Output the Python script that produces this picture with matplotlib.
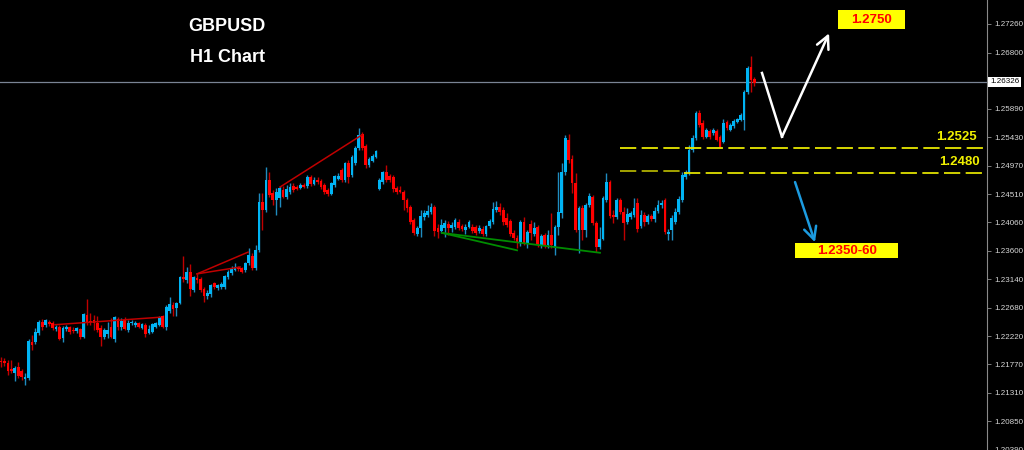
import matplotlib.pyplot as plt
import numpy as np
from matplotlib.patches import Rectangle
from matplotlib.transforms import blended_transform_factory

plt.rcParams['font.family'] = ['Liberation Sans', 'DejaVu Sans']

# GBPUSD H1 candles
opens = [
    1.2182, 1.2182, 1.2179, 1.2170, 1.2163, 1.2173, 1.2166, 1.2153, 1.2155, 1.2213,
    1.2213, 1.2228, 1.2245, 1.2241, 1.2245, 1.2244, 1.2234, 1.2237, 1.2220, 1.2234,
    1.2237, 1.2232, 1.2231, 1.2234, 1.2221, 1.2257, 1.2247, 1.2249, 1.2244, 1.2236,
    1.2221, 1.2226, 1.2237, 1.2218, 1.2250, 1.2237, 1.2249, 1.2232, 1.2244, 1.2241,
    1.2244, 1.2236, 1.2241, 1.2228, 1.2229, 1.2237, 1.2241, 1.2255, 1.2237, 1.2263,
    1.2273, 1.2268, 1.2276, 1.2318, 1.2313, 1.2326, 1.2297, 1.2316, 1.2315, 1.2299,
    1.2287, 1.2291, 1.2308, 1.2300, 1.2302, 1.2302, 1.2318, 1.2324, 1.2329, 1.2334,
    1.2332, 1.2329, 1.2340, 1.2352, 1.2332, 1.2361, 1.2439, 1.2426, 1.2474, 1.2453,
    1.2442, 1.2445, 1.2458, 1.2447, 1.2455, 1.2465, 1.2463, 1.2461, 1.2466, 1.2465,
    1.2479, 1.2468, 1.2474, 1.2473, 1.2466, 1.2458, 1.2452, 1.2466, 1.2476, 1.2491,
    1.2474, 1.2502, 1.2482, 1.2502, 1.2526, 1.2549, 1.2529, 1.2499, 1.2505, 1.2511,
    1.2460, 1.2471, 1.2487, 1.2481, 1.2479, 1.2461, 1.2458, 1.2455, 1.2442, 1.2431,
    1.2410, 1.2387, 1.2397, 1.2415, 1.2418, 1.2423, 1.2431, 1.2397, 1.2392, 1.2397,
    1.2403, 1.2397, 1.2399, 1.2407, 1.2400, 1.2394, 1.2399, 1.2399, 1.2399, 1.2392,
    1.2395, 1.2387, 1.2400, 1.2407, 1.2426, 1.2431, 1.2426, 1.2413, 1.2408, 1.2389,
    1.2381, 1.2373, 1.2407, 1.2371, 1.2403, 1.2387, 1.2399, 1.2368, 1.2386, 1.2370,
    1.2386, 1.2365, 1.2399, 1.2421, 1.2487, 1.2539, 1.2508, 1.2470, 1.2394, 1.2429,
    1.2394, 1.2434, 1.2447, 1.2405, 1.2366, 1.2379, 1.2442, 1.2471, 1.2418, 1.2415,
    1.2442, 1.2423, 1.2407, 1.2415, 1.2418, 1.2437, 1.2400, 1.2418, 1.2407, 1.2416,
    1.2411, 1.2424, 1.2434, 1.2442, 1.2387, 1.2394, 1.2407, 1.2423, 1.2442, 1.2479,
    1.2486, 1.2523, 1.2542, 1.2582, 1.2566, 1.2544, 1.2553, 1.2550, 1.2553, 1.2544,
    1.2536, 1.2568, 1.2555, 1.2561, 1.2568, 1.2571, 1.2571, 1.2616, 1.2657, 1.2637,
]
highs = [
    1.2189, 1.2187, 1.2184, 1.2184, 1.2174, 1.2181, 1.2170, 1.2163, 1.2218, 1.2224,
    1.2236, 1.2249, 1.2250, 1.2250, 1.2249, 1.2247, 1.2241, 1.2241, 1.2239, 1.2241,
    1.2239, 1.2237, 1.2237, 1.2236, 1.2260, 1.2282, 1.2260, 1.2257, 1.2255, 1.2241,
    1.2236, 1.2245, 1.2252, 1.2255, 1.2253, 1.2252, 1.2253, 1.2249, 1.2249, 1.2247,
    1.2245, 1.2244, 1.2244, 1.2241, 1.2244, 1.2245, 1.2255, 1.2257, 1.2273, 1.2286,
    1.2278, 1.2278, 1.2320, 1.2352, 1.2334, 1.2339, 1.2320, 1.2323, 1.2318, 1.2302,
    1.2297, 1.2307, 1.2310, 1.2307, 1.2310, 1.2321, 1.2329, 1.2336, 1.2340, 1.2336,
    1.2334, 1.2342, 1.2365, 1.2357, 1.2370, 1.2453, 1.2453, 1.2495, 1.2487, 1.2458,
    1.2461, 1.2465, 1.2465, 1.2466, 1.2470, 1.2470, 1.2466, 1.2470, 1.2470, 1.2482,
    1.2482, 1.2479, 1.2479, 1.2476, 1.2470, 1.2461, 1.2471, 1.2482, 1.2486, 1.2494,
    1.2503, 1.2507, 1.2515, 1.2529, 1.2558, 1.2552, 1.2532, 1.2511, 1.2516, 1.2523,
    1.2478, 1.2489, 1.2499, 1.2484, 1.2482, 1.2465, 1.2465, 1.2458, 1.2445, 1.2434,
    1.2413, 1.2400, 1.2426, 1.2426, 1.2434, 1.2437, 1.2434, 1.2403, 1.2411, 1.2410,
    1.2408, 1.2407, 1.2413, 1.2411, 1.2403, 1.2403, 1.2410, 1.2403, 1.2402, 1.2402,
    1.2400, 1.2402, 1.2411, 1.2439, 1.2440, 1.2437, 1.2431, 1.2421, 1.2411, 1.2394,
    1.2386, 1.2410, 1.2415, 1.2394, 1.2410, 1.2407, 1.2402, 1.2387, 1.2389, 1.2394,
    1.2421, 1.2402, 1.2487, 1.2502, 1.2547, 1.2549, 1.2515, 1.2486, 1.2432, 1.2434,
    1.2437, 1.2453, 1.2450, 1.2408, 1.2399, 1.2449, 1.2486, 1.2474, 1.2426, 1.2445,
    1.2445, 1.2431, 1.2429, 1.2424, 1.2445, 1.2445, 1.2426, 1.2423, 1.2420, 1.2420,
    1.2431, 1.2442, 1.2442, 1.2445, 1.2395, 1.2418, 1.2429, 1.2449, 1.2487, 1.2491,
    1.2531, 1.2547, 1.2586, 1.2587, 1.2571, 1.2558, 1.2557, 1.2558, 1.2557, 1.2547,
    1.2573, 1.2571, 1.2566, 1.2573, 1.2574, 1.2582, 1.2620, 1.2658, 1.2674, 1.2641,
]
lows = [
    1.2173, 1.2174, 1.2160, 1.2163, 1.2150, 1.2155, 1.2152, 1.2144, 1.2152, 1.2200,
    1.2210, 1.2224, 1.2232, 1.2237, 1.2239, 1.2232, 1.2231, 1.2216, 1.2213, 1.2231,
    1.2226, 1.2228, 1.2228, 1.2218, 1.2220, 1.2241, 1.2241, 1.2232, 1.2229, 1.2207,
    1.2218, 1.2220, 1.2220, 1.2213, 1.2232, 1.2232, 1.2232, 1.2229, 1.2241, 1.2237,
    1.2236, 1.2234, 1.2221, 1.2226, 1.2228, 1.2236, 1.2239, 1.2236, 1.2232, 1.2260,
    1.2255, 1.2255, 1.2274, 1.2310, 1.2308, 1.2287, 1.2294, 1.2308, 1.2294, 1.2278,
    1.2282, 1.2286, 1.2299, 1.2297, 1.2299, 1.2299, 1.2315, 1.2321, 1.2328, 1.2328,
    1.2324, 1.2326, 1.2337, 1.2329, 1.2329, 1.2358, 1.2394, 1.2423, 1.2447, 1.2434,
    1.2418, 1.2431, 1.2445, 1.2444, 1.2452, 1.2455, 1.2458, 1.2460, 1.2461, 1.2461,
    1.2465, 1.2466, 1.2468, 1.2460, 1.2452, 1.2449, 1.2450, 1.2463, 1.2474, 1.2471,
    1.2471, 1.2470, 1.2479, 1.2499, 1.2523, 1.2523, 1.2494, 1.2495, 1.2503, 1.2510,
    1.2458, 1.2468, 1.2471, 1.2471, 1.2455, 1.2452, 1.2453, 1.2426, 1.2423, 1.2403,
    1.2386, 1.2384, 1.2382, 1.2410, 1.2415, 1.2420, 1.2384, 1.2381, 1.2389, 1.2382,
    1.2386, 1.2390, 1.2395, 1.2394, 1.2392, 1.2387, 1.2397, 1.2389, 1.2386, 1.2389,
    1.2384, 1.2384, 1.2397, 1.2403, 1.2423, 1.2418, 1.2402, 1.2399, 1.2384, 1.2378,
    1.2365, 1.2368, 1.2370, 1.2365, 1.2378, 1.2384, 1.2366, 1.2365, 1.2365, 1.2365,
    1.2365, 1.2353, 1.2386, 1.2413, 1.2482, 1.2502, 1.2453, 1.2390, 1.2357, 1.2378,
    1.2382, 1.2431, 1.2402, 1.2358, 1.2363, 1.2378, 1.2439, 1.2413, 1.2405, 1.2411,
    1.2420, 1.2378, 1.2403, 1.2411, 1.2415, 1.2390, 1.2397, 1.2400, 1.2403, 1.2408,
    1.2407, 1.2421, 1.2429, 1.2387, 1.2378, 1.2378, 1.2403, 1.2420, 1.2439, 1.2476,
    1.2482, 1.2520, 1.2539, 1.2560, 1.2540, 1.2542, 1.2540, 1.2547, 1.2537, 1.2526,
    1.2534, 1.2555, 1.2553, 1.2558, 1.2566, 1.2570, 1.2555, 1.2613, 1.2616, 1.2626,
]
closes = [
    1.2181, 1.2179, 1.2166, 1.2166, 1.2171, 1.2158, 1.2157, 1.2157, 1.2215, 1.2208,
    1.2229, 1.2245, 1.2237, 1.2249, 1.2242, 1.2236, 1.2237, 1.2218, 1.2236, 1.2237,
    1.2229, 1.2231, 1.2236, 1.2221, 1.2258, 1.2244, 1.2245, 1.2244, 1.2232, 1.2221,
    1.2232, 1.2232, 1.2221, 1.2253, 1.2237, 1.2247, 1.2234, 1.2244, 1.2245, 1.2244,
    1.2237, 1.2242, 1.2226, 1.2234, 1.2242, 1.2244, 1.2253, 1.2237, 1.2270, 1.2274,
    1.2266, 1.2276, 1.2318, 1.2315, 1.2326, 1.2299, 1.2318, 1.2313, 1.2297, 1.2287,
    1.2292, 1.2305, 1.2302, 1.2305, 1.2307, 1.2320, 1.2326, 1.2332, 1.2334, 1.2331,
    1.2326, 1.2340, 1.2353, 1.2332, 1.2361, 1.2439, 1.2426, 1.2474, 1.2450, 1.2442,
    1.2455, 1.2461, 1.2447, 1.2460, 1.2463, 1.2458, 1.2460, 1.2466, 1.2463, 1.2479,
    1.2468, 1.2474, 1.2471, 1.2463, 1.2455, 1.2452, 1.2470, 1.2481, 1.2481, 1.2474,
    1.2502, 1.2479, 1.2511, 1.2526, 1.2547, 1.2526, 1.2499, 1.2508, 1.2513, 1.2521,
    1.2474, 1.2487, 1.2474, 1.2474, 1.2460, 1.2455, 1.2455, 1.2442, 1.2429, 1.2407,
    1.2389, 1.2397, 1.2416, 1.2421, 1.2424, 1.2431, 1.2392, 1.2390, 1.2402, 1.2405,
    1.2397, 1.2402, 1.2410, 1.2397, 1.2395, 1.2399, 1.2407, 1.2392, 1.2389, 1.2397,
    1.2387, 1.2400, 1.2408, 1.2428, 1.2431, 1.2423, 1.2407, 1.2402, 1.2387, 1.2381,
    1.2373, 1.2407, 1.2373, 1.2390, 1.2389, 1.2397, 1.2370, 1.2384, 1.2368, 1.2386,
    1.2370, 1.2399, 1.2423, 1.2487, 1.2542, 1.2507, 1.2470, 1.2394, 1.2429, 1.2394,
    1.2434, 1.2449, 1.2405, 1.2366, 1.2379, 1.2445, 1.2471, 1.2416, 1.2415, 1.2442,
    1.2423, 1.2405, 1.2420, 1.2421, 1.2429, 1.2395, 1.2418, 1.2407, 1.2416, 1.2411,
    1.2424, 1.2434, 1.2437, 1.2390, 1.2390, 1.2413, 1.2423, 1.2444, 1.2482, 1.2487,
    1.2523, 1.2542, 1.2582, 1.2563, 1.2544, 1.2555, 1.2544, 1.2555, 1.2539, 1.2528,
    1.2566, 1.2558, 1.2563, 1.2570, 1.2573, 1.2579, 1.2616, 1.2655, 1.2636, 1.2631,
]

# price axis
tick_prices = [1.27260, 1.26800, 1.25890, 1.25430, 1.24970, 1.24510, 1.24060,
               1.23600, 1.23140, 1.22680, 1.22220, 1.21770, 1.21310, 1.20850, 1.20390]
last_price = 1.26326

# drawn annotations (candle index, price)
red_lines = [([15.7, 46.2], [1.2241, 1.2253]),
             ([57.0, 71.8], [1.2323, 1.2358]),
             ([57.0, 69.5], [1.2323, 1.2334]),
             ([81.1, 104.9], [1.2463, 1.2547])]
green_lines = [([128.2, 150.0], [1.2389, 1.2361]),
               ([128.2, 174.1], [1.2389, 1.2357])]
level_hi = 1.2526
level_lo = 1.2488
target_up = "1.2750"
target_down = "1.2350-60"

o = np.array(opens)
h = np.array(highs)
l = np.array(lows)
c = np.array(closes)
x = np.arange(len(c))
up = c >= o

UP = "#00b4f4"
DOWN = "#ff0000"

fig = plt.figure(figsize=(10.24, 4.5), dpi=100, facecolor="black")
ax = fig.add_axes([0, 0, 987 / 1024, 1])
ax.set_facecolor("black")

x_right = 286.6
ax.set_xlim(-0.29, x_right)
ax.set_ylim(1.20389, 1.27647)

# candles
ax.vlines(x[up], l[up], h[up], colors="#1f8cc0", lw=1.0, zorder=2)
ax.vlines(x[~up], l[~up], h[~up], colors="#c00000", lw=1.0, zorder=2)
body = np.maximum(np.abs(c - o), 0.00008)
ax.bar(x[up], body[up], bottom=o[up], width=0.8, color=UP, linewidth=0, zorder=3)
ax.bar(x[~up], body[~up], bottom=c[~up], width=0.8, color=DOWN, linewidth=0, zorder=3)

# trend lines
for xs, ys in red_lines:
    ax.plot(xs, ys, color="#c00000", lw=1.1, zorder=4)
for xs, ys in green_lines:
    ax.plot(xs, ys, color="#008c00", lw=1.3, zorder=4)

# current price line
ax.axhline(last_price, color="#7a8494", lw=0.9, zorder=1)

# support levels
ax.hlines(level_hi, 180, x_right, colors="#e8e800", lw=1.3, linestyles=(0, (9, 3)), zorder=4)
ax.hlines(level_lo + 0.0001, 180, 198.5, colors="#b0b000", lw=1.3, linestyles=(0, (9, 3)), zorder=4)
ax.hlines(level_lo - 0.0002, 198.5, x_right, colors="#e0e000", lw=1.3, linestyles=(0, (9, 3)), zorder=4)
ax.text(277.6, 1.2544, "1.2525", ha="center", va="center", color="#f0f000",
        fontsize=9.5, fontweight="bold")
ax.text(278.5, 1.2504, "1.2480", ha="center", va="center", color="#f0f000",
        fontsize=9.5, fontweight="bold")

# projected path
ax.plot([221.2, 227.0], [1.2647, 1.2544], color="white", lw=1.8, zorder=5)
ax.annotate("", xy=(240.7, 1.2711), xytext=(227.0, 1.2544),
            arrowprops=dict(arrowstyle="->,head_length=0.9,head_width=0.45",
                            color="white", lw=1.8, shrinkA=0, shrinkB=0))
ax.annotate("", xy=(236.6, 1.2374), xytext=(230.8, 1.2471),
            arrowprops=dict(arrowstyle="->,head_length=0.9,head_width=0.45",
                            color="#1c9be0", lw=1.8, shrinkA=0, shrinkB=0))

# target boxes
ax.add_patch(Rectangle((243.3, 1.27179), 19.5, 0.00307, facecolor="#ffff00",
                       edgecolor="none", zorder=5))
ax.text(253.05, 1.27332, target_up, ha="center", va="center", color="#ff0000",
        fontsize=9.5, fontweight="bold", zorder=6)
ax.add_patch(Rectangle((230.8, 1.23486), 30.0, 0.00242, facecolor="#ffff00",
                       edgecolor="none", zorder=5))
ax.text(245.8, 1.23595, target_down, ha="center", va="center", color="#ff0000",
        fontsize=9.5, fontweight="bold", zorder=6)

# title
ax.text(0.23, 0.942, "GBPUSD", transform=ax.transAxes, ha="center", va="center",
        color="white", fontsize=13, fontweight="bold")
ax.text(0.2305, 0.873, "H1 Chart", transform=ax.transAxes, ha="center", va="center",
        color="white", fontsize=13, fontweight="bold")

# axis styling
ax.set_xticks([])
ax.yaxis.tick_right()
ax.set_yticks(tick_prices)
ax.set_yticklabels([f"{p:.5f}" for p in tick_prices])
ax.tick_params(axis="y", color="#909090", labelcolor="#d8d8d8", labelsize=5.8,
               length=3, width=0.6, pad=2)
for side in ["left", "top", "bottom"]:
    ax.spines[side].set_visible(False)
ax.spines["right"].set_color("#8a8a8a")
ax.spines["right"].set_linewidth(0.8)

trans = blended_transform_factory(ax.transAxes, ax.transData)
ax.text(1.0 + 3 / 987, last_price, f"{last_price:.5f}", transform=trans, ha="left",
        va="center", fontsize=5.8, color="black", clip_on=False,
        bbox=dict(facecolor="white", edgecolor="none", boxstyle="square,pad=0.2"))

fig.savefig("out.png", dpi=100, facecolor="black")
